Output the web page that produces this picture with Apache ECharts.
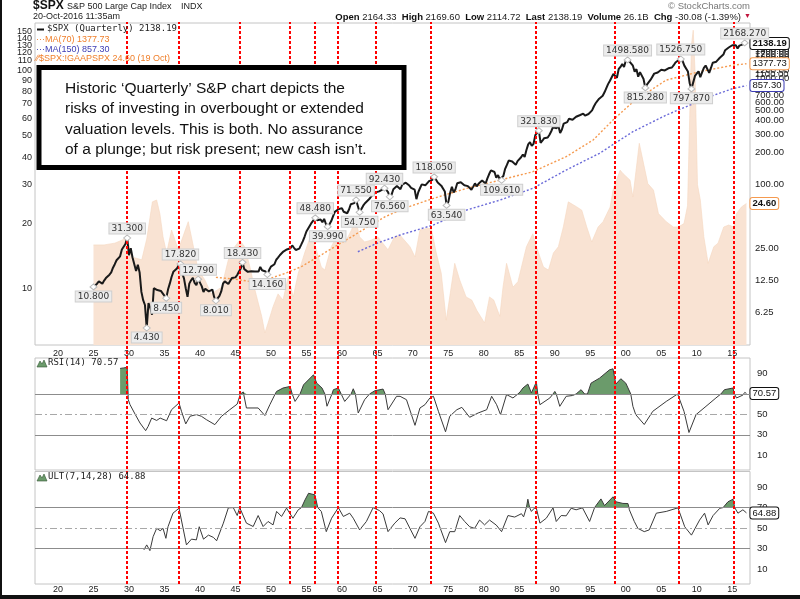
<!DOCTYPE html>
<html>
<head>
<meta charset="utf-8">
<script src="https://cdn.jsdelivr.net/npm/echarts@6/dist/echarts.min.js"></script>
<style>html,body{margin:0;padding:0;background:#fff}#chart{width:800px;height:599px}</style>
</head>
<body>
<div id="chart"></div>
<script>
// quarterly closes; first value = end of 1924, then Q1..Q4 of each year
var spxStart = 1925;
var spxClose = [10.8,
  11.2, 11.6, 12.2, 12.5,   11.6, 12.4, 13.1, 13.4,   14.1, 14.8, 16.4, 17.7,   19.3, 19.0, 21.0, 24.4,   25.3, 27.5, 31.3, 21.5,
  25.1, 20.5, 20.2, 15.3,   17.5, 14.8, 9.7, 8.1,     7.3, 4.43, 7.6, 6.9,      5.9, 10.5, 10.5, 10.1,    10.3, 9.9, 9.4, 9.5,
  8.45, 10.2, 11.6, 13.4,   15.0, 15.2, 16.1, 17.2,   17.82, 14.5, 13.0, 10.5,  8.7, 11.6, 12.5, 13.2,    11.8, 11.2, 12.79, 12.5,
  11.0, 9.7, 10.4, 10.6,    9.8, 9.6, 10.2, 8.7,      8.01, 8.3, 8.9, 9.8,      11.6, 12.2, 11.8, 11.5,   12.0, 13.1, 12.8, 13.3,
  14.0, 15.1, 16.1, 18.43,  15.9, 15.5, 15.0, 15.3,   15.2, 15.1, 15.1, 15.3,   15.1, 16.7, 15.5, 15.2,   15.1, 14.16, 15.6, 16.8,
  17.3, 17.7, 19.5, 20.4,   21.5, 21.0, 23.3, 23.8,   24.4, 25.0, 25.0, 26.6,   25.3, 24.1, 23.4, 24.8,   26.9, 29.2, 32.3, 36.0,
  36.6, 41.0, 43.7, 45.5,   48.48, 46.0, 45.4, 46.7,  44.1, 47.4, 42.4, 39.99,  42.1, 45.2, 50.1, 55.2,   55.4, 58.5, 56.9, 59.9,
  55.3, 56.9, 53.5, 58.1,   65.1, 64.6, 66.7, 71.55,  69.6, 54.75, 56.3, 63.1,  66.6, 69.4, 71.7, 75.0,   78.9, 81.7, 84.2, 84.75,
  86.2, 84.1, 90.0, 92.43,  89.2, 84.7, 76.56, 80.3,  90.2, 90.6, 96.7, 96.5,   90.2, 99.6, 102.7, 103.9, 101.5, 97.7, 93.1, 92.1,
  89.6, 72.7, 84.2, 92.2,   100.3, 99.7, 98.3, 102.1, 107.2, 107.1, 110.6, 118.05, 111.5, 104.3, 108.4, 97.55, 94.0, 86.0, 63.54, 68.6,
  83.4, 95.2, 83.9, 90.2,   102.8, 104.3, 105.2, 107.5, 98.4, 100.5, 96.5, 95.1, 89.2, 95.5, 102.5, 96.1, 101.6, 102.9, 109.3, 107.9,
  102.1, 114.2, 125.5, 135.8, 136.0, 131.2, 116.2, 122.6, 112.0, 109.61, 120.4, 140.6, 153.0, 168.1, 166.1, 164.9, 159.2, 153.2, 166.1, 167.2,
  180.7, 191.9, 182.1, 211.3, 238.9, 250.8, 231.3, 242.2, 291.7, 304.0, 321.83, 247.1, 258.9, 273.5, 271.9, 277.7, 294.9, 318.0, 349.2, 353.4,
  339.9, 358.0, 306.1, 330.2, 375.2, 371.2, 387.9, 417.1, 403.7, 408.1, 417.8, 435.7, 451.7, 450.5, 458.9, 466.5, 445.8, 444.3, 462.7, 459.3,
  500.7, 544.8, 584.4, 615.9, 645.5, 670.6, 687.3, 740.7, 757.1, 885.1, 947.3, 970.4, 1101.8, 1133.8, 1017.0, 1229.2, 1286.4, 1372.7, 1282.7, 1469.3,
  1498.58, 1454.6, 1436.5, 1320.3, 1160.3, 1224.4, 1040.9, 1148.1, 1147.4, 989.8, 815.28, 879.8, 848.2, 974.5, 996.0, 1111.9, 1126.2, 1140.8, 1114.6, 1211.9,
  1180.6, 1191.3, 1228.8, 1248.3, 1294.8, 1270.2, 1335.9, 1418.3, 1420.9, 1503.4, 1526.75, 1468.4, 1322.7, 1280.0, 1166.4, 903.25, 797.87, 919.3, 1057.1, 1115.1,
  1169.4, 1030.7, 1141.2, 1257.6, 1325.8, 1320.6, 1131.4, 1257.6, 1408.5, 1362.2, 1440.7, 1426.2, 1569.2, 1606.3, 1681.6, 1848.4, 1872.3, 1960.2, 1972.3, 2058.9,
  2067.9, 2063.1, 1920.0, 2043.9, 2059.7, 2098.9, 2168.27, 2138.19
];

// labelled highs / lows: [time, value, side]
var spxMarks = [
  [1925.0, 10.8, 'bottom'], [1929.75, 31.3, 'top'], [1932.5, 4.43, 'bottom'], [1935.25, 8.45, 'bottom'],
  [1937.25, 17.82, 'top'], [1939.75, 12.79, 'top'], [1942.25, 8.01, 'bottom'], [1946.0, 18.43, 'top'],
  [1949.5, 14.16, 'bottom'], [1956.25, 48.48, 'top'], [1958.0, 39.99, 'bottom'], [1962.0, 71.55, 'top'],
  [1962.5, 54.75, 'bottom'], [1966.0, 92.43, 'top'], [1966.75, 76.56, 'bottom'], [1973.0, 118.05, 'top'],
  [1974.75, 63.54, 'bottom'], [1982.5, 109.61, 'bottom'], [1987.75, 321.83, 'top'], [2000.25, 1498.58, 'top'],
  [2002.75, 815.28, 'bottom'], [2007.75, 1526.75, 'top'], [2009.25, 797.87, 'bottom'], [2016.75, 2168.27, 'top']
];

var ma70 = [
  [1942.25, 13.3], [1944.9, 12.8], [1947.3, 12.1], [1949.6, 12.8], [1952.0, 14.5], [1954.3, 16.8], [1956.7, 20.9],
  [1959.0, 25.9], [1961.4, 32.2], [1963.7, 40.0], [1966.1, 49.7], [1968.9, 60.0], [1972.9, 74.0], [1977.6, 92.0],
  [1982.3, 110.0], [1986.9, 132.0], [1991.6, 183.0], [1995.4, 263.0], [1998.2, 406.0], [2001.0, 600.0],
  [2005.7, 967.0], [2010.4, 1160.0], [2015.1, 1336.0], [2017.0, 1377.73]
];

var ma150 = [
  [1962.25, 23.2], [1965.0, 28.0], [1968.2, 33.4], [1972.9, 41.5], [1977.6, 57.5], [1982.3, 71.4], [1986.9, 92.0],
  [1991.6, 137.0], [1996.3, 197.0], [2001.0, 315.0], [2005.7, 452.0], [2009.0, 560.0], [2012.0, 680.0],
  [2015.0, 800.0], [2017.0, 857.3]
];

// $SPX:!GAAPSPX (price / GAAP earnings)
var gaapPE = [
  [1925.0, 15.9], [1926.5, 15.9], [1928.0, 16.2], [1929.0, 16.7], [1929.75, 17.3], [1930.4, 14.0], [1931.8, 13.6],
  [1932.5, 16.9], [1933.3, 25.0], [1933.9, 25.5], [1934.35, 22.1], [1934.8, 17.3], [1935.3, 14.6], [1936.0, 18.6],
  [1936.95, 15.1], [1938.35, 20.3], [1938.8, 17.3], [1939.75, 12.2], [1940.7, 11.0], [1941.6, 9.5], [1943.05, 10.2],
  [1944.0, 13.6], [1944.9, 15.6], [1945.6, 16.7], [1946.3, 15.6], [1947.05, 12.6], [1947.75, 9.9], [1948.7, 7.5],
  [1949.15, 6.3], [1949.6, 7.0], [1950.3, 8.3], [1951.0, 9.5], [1951.7, 8.9], [1952.45, 11.4], [1953.15, 9.2],
  [1953.85, 11.8], [1954.75, 14.6], [1955.7, 17.9], [1956.4, 15.1], [1957.1, 12.6], [1957.6, 12.2], [1958.5, 15.6],
  [1959.5, 17.9], [1960.4, 16.2], [1961.35, 18.6], [1961.9, 21.0], [1962.5, 17.3], [1963.2, 16.4], [1964.1, 16.7],
  [1965.05, 17.3], [1966.5, 15.1], [1967.4, 17.3], [1968.2, 17.6], [1969.6, 15.6], [1970.3, 14.0], [1971.0, 18.6],
  [1971.9, 18.9], [1972.6, 18.9], [1973.3, 14.6], [1974.0, 11.8], [1974.7, 7.2], [1975.9, 13.1], [1976.6, 11.0],
  [1977.5, 9.2], [1978.3, 8.9], [1979.0, 8.0], [1980.1, 7.0], [1980.8, 9.2], [1981.4, 8.9], [1982.25, 7.5],
  [1982.7, 10.2], [1983.2, 13.1], [1984.1, 10.2], [1984.8, 10.8], [1986.0, 15.6], [1986.9, 17.9], [1987.4, 15.6],
  [1988.4, 12.6], [1989.1, 12.2], [1989.8, 14.6], [1990.5, 15.6], [1991.2, 19.2], [1991.9, 25.0], [1993.1, 23.7],
  [1993.8, 22.9], [1994.5, 19.2], [1995.2, 16.4], [1996.1, 19.2], [1996.8, 20.3], [1997.8, 23.7], [1998.2, 28.3],
  [1999.2, 34.9], [1999.6, 33.7], [2000.6, 31.4], [2001.0, 26.3], [2001.9, 46.3], [2002.4, 38.8], [2003.1, 30.3],
  [2003.9, 28.3], [2004.6, 22.1], [2005.7, 20.3], [2006.7, 19.2], [2007.4, 19.2], [2008.2, 19.9], [2008.7, 24.0],
  [2009.0, 60.0], [2009.25, 130.0], [2009.5, 152.0], [2009.75, 100.0], [2010.1, 30.0], [2010.5, 25.5], [2011.0, 17.3],
  [2011.6, 13.1], [2012.4, 15.6], [2013.0, 16.2], [2013.8, 19.2], [2014.5, 19.6], [2015.2, 19.2], [2015.6, 22.1],
  [2016.3, 23.7], [2017.0, 24.6]
];

var rsi14 = [
  [1928.75, 95.0], [1929.25, 95.5], [1929.75, 96.0], [1929.9, 64.4], [1930.15, 59.5], [1930.85, 50.4], [1931.55, 41.6],
  [1932.35, 34.1], [1932.7, 38.3], [1933.2, 46.4], [1933.4, 47.0], [1933.9, 44.1], [1934.4, 46.4], [1935.3, 43.8],
  [1936.0, 54.6], [1937.05, 61.2], [1937.4, 53.0], [1938.0, 40.7], [1938.6, 48.2], [1939.5, 49.8], [1940.2, 48.2],
  [1940.9, 44.9], [1942.1, 40.0], [1943.05, 48.2], [1944.2, 54.6], [1945.25, 60.1], [1945.7, 70.0], [1946.1, 72.0],
  [1946.55, 56.3], [1948.2, 56.3], [1948.45, 55.6], [1949.15, 48.9], [1949.85, 59.5], [1950.6, 70.0], [1950.8, 72.5],
  [1951.7, 75.8], [1952.7, 77.4], [1953.0, 70.0], [1953.4, 62.7], [1954.1, 70.0], [1954.6, 79.0], [1956.0, 88.8],
  [1956.45, 80.6], [1957.2, 75.8], [1957.6, 70.0], [1957.9, 58.0], [1958.6, 70.0], [1958.8, 74.2], [1959.5, 75.8],
  [1959.9, 70.0], [1960.4, 62.7], [1961.3, 70.0], [1961.6, 75.1], [1961.9, 70.0], [1962.3, 51.4], [1963.2, 64.4],
  [1963.9, 70.0], [1964.65, 73.2], [1965.8, 74.8], [1966.1, 70.0], [1966.5, 54.6], [1967.7, 67.7], [1968.2, 67.7],
  [1969.1, 64.4], [1970.3, 39.3], [1971.0, 56.3], [1971.7, 59.5], [1972.4, 66.1], [1972.9, 67.7], [1973.6, 53.0],
  [1974.6, 33.0], [1975.2, 48.2], [1976.2, 54.6], [1976.9, 56.9], [1978.0, 47.2], [1979.2, 51.4], [1980.4, 54.6],
  [1981.1, 67.7], [1981.8, 59.5], [1982.35, 49.8], [1983.2, 69.4], [1984.1, 66.1], [1984.8, 70.0], [1985.1, 71.9],
  [1985.5, 75.8], [1986.2, 79.7], [1986.7, 71.0], [1987.4, 81.7], [1987.6, 70.0], [1987.9, 59.5], [1989.3, 66.1],
  [1989.75, 70.0], [1990.0, 72.5], [1990.2, 70.0], [1990.7, 57.9], [1991.6, 67.7], [1992.5, 68.5], [1993.0, 70.0],
  [1993.7, 74.2], [1994.2, 70.0], [1994.4, 68.4], [1994.6, 70.0], [1995.1, 80.6], [1996.3, 85.5], [1997.7, 93.6],
  [1998.2, 94.6], [1998.6, 79.7], [1999.3, 84.9], [2000.0, 80.6], [2000.7, 70.0], [2001.0, 57.9], [2001.4, 49.8],
  [2002.6, 40.1], [2003.8, 53.0], [2005.7, 62.7], [2007.3, 70.0], [2008.2, 53.0], [2008.9, 32.3], [2009.9, 49.8],
  [2011.3, 57.9], [2012.7, 66.1], [2013.4, 70.0], [2013.9, 74.2], [2015.1, 75.8], [2015.3, 70.0], [2015.6, 66.1],
  [2016.5, 68.9], [2016.75, 71.5], [2017.0, 70.57]
];

var ult = [
  [1932.1, 28.8], [1932.5, 33.7], [1932.95, 28.1], [1933.4, 41.7], [1933.9, 49.8], [1934.4, 47.5], [1934.8, 49.8],
  [1935.2, 40.1], [1935.5, 51.4], [1936.2, 64.6], [1937.05, 69.4], [1938.1, 33.7], [1938.8, 39.3], [1939.5, 38.6],
  [1939.9, 51.4], [1940.5, 39.3], [1941.2, 43.2], [1941.9, 41.0], [1942.35, 37.7], [1943.3, 54.9], [1944.0, 69.8],
  [1944.7, 70.0], [1945.25, 62.3], [1945.6, 70.0], [1946.55, 54.9], [1947.5, 51.6], [1948.2, 62.3], [1948.9, 51.6],
  [1949.6, 56.5], [1950.3, 53.2], [1950.8, 66.3], [1951.5, 61.4], [1952.2, 69.5], [1953.1, 59.7], [1953.85, 67.9],
  [1954.3, 70.0], [1954.8, 77.5], [1955.3, 84.0], [1956.2, 82.4], [1956.6, 70.0], [1957.1, 66.3], [1957.8, 46.6],
  [1958.55, 59.7], [1959.5, 70.0], [1960.2, 61.4], [1961.1, 64.6], [1961.6, 59.7], [1962.5, 48.3], [1963.45, 56.5],
  [1964.4, 70.0], [1965.3, 67.1], [1965.8, 63.9], [1966.5, 46.6], [1967.45, 54.9], [1968.2, 60.0], [1968.9, 59.1],
  [1970.3, 40.1], [1971.0, 51.4], [1971.7, 56.5], [1972.2, 66.3], [1972.9, 64.6], [1973.6, 54.9], [1974.6, 35.9],
  [1975.2, 46.6], [1975.9, 46.6], [1976.6, 62.3], [1977.3, 56.5], [1978.0, 51.4], [1978.7, 49.8], [1979.4, 57.9],
  [1980.1, 53.2], [1980.8, 57.9], [1981.75, 53.0], [1982.5, 46.6], [1983.4, 62.3], [1984.35, 60.8], [1985.3, 64.1],
  [1985.6, 61.0], [1986.0, 70.0], [1986.2, 78.2], [1986.45, 70.0], [1986.7, 66.3], [1987.1, 69.4], [1987.4, 69.4],
  [1987.9, 54.9], [1988.8, 59.7], [1989.75, 69.8], [1990.2, 56.5], [1990.9, 62.3], [1991.6, 62.0], [1992.3, 69.4],
  [1993.0, 67.9], [1993.9, 69.8], [1994.9, 56.5], [1995.6, 70.0], [1995.8, 72.0], [1996.5, 78.5], [1997.0, 72.0],
  [1998.2, 80.6], [1998.6, 75.7], [1999.6, 74.1], [2000.3, 74.0], [2000.45, 70.0], [2000.5, 67.9], [2001.2, 56.5],
  [2001.7, 49.8], [2002.6, 46.6], [2003.3, 48.3], [2004.3, 64.6], [2005.7, 66.3], [2007.35, 69.8], [2008.3, 51.4],
  [2009.25, 43.2], [2010.4, 57.9], [2011.1, 64.6], [2011.6, 53.2], [2012.3, 62.3], [2013.25, 69.4], [2013.7, 70.0],
  [2014.4, 75.7], [2015.1, 78.2], [2015.35, 70.0], [2015.8, 64.6], [2016.5, 67.9], [2017.0, 64.88]
];

var redLineYears = [1929.7, 1937.0, 1945.6, 1952.7, 1956.2, 1959.4, 1964.8, 1972.5, 1987.3, 1998.5, 2007.5, 2015.2];
var yearTicks = [1920, 1925, 1930, 1935, 1940, 1945, 1950, 1955, 1960, 1965, 1970, 1975, 1980, 1985, 1990, 1995, 2000, 2005, 2010, 2015];
var peTicks = [10, 20, 30, 40, 50, 60, 70, 80, 90, 100, 110, 120, 130, 140, 150, 160];
var priceTicks = [6.25, 12.5, 25, 100, 200, 300, 400, 500, 600, 700, 800, 900, 1000, 1100, 1200, 1300, 1400, 1500, 1600, 1700, 1800, 1900, 2000];
var oscTicks = [10, 30, 50, 70, 90];

var boxLines = [
  'Historic \u2018Quarterly\u2019 S&P chart depicts the',
  'risks of investing in overbought or extended',
  'valuation levels. This is both. No assurance',
  'of a plunge; but risk present; new cash isn\u2019t.'
];

var XMIN = 1916.76, XMAX = 2017.5;
var PE_MIN = 5.55, PE_MAX = 164, PX_MIN = 3.06, PX_MAX = 3340;
var OSC_MIN = -4.4, OSC_MAX = 105.2;

var SANS = 'Liberation Sans, Arial, sans-serif';
var MONO = 'DejaVu Sans Mono, monospace';
var DJV = 'DejaVu Sans, sans-serif';
var ORANGE = '#f59a4f', BLUE = '#6a6ad8', GREEN = '#6b9b6b';

var spxData = spxClose.map(function (v, i) { return [spxStart + i * 0.25, v]; });
var rsiFill = rsi14.map(function (d) { return [d[0], Math.max(d[1], 70)]; });
var ultFill = ult.map(function (d) { return [d[0], Math.max(d[1], 70)]; });
function lastVal(arr) { return arr[arr.length - 1][1]; }

function xAxisFor(grid, showLabels, margin) {
  return {
    gridIndex: grid, type: 'value', min: XMIN, max: XMAX,
    axisLine: { show: false }, axisTick: { show: false }, splitLine: { show: false },
    axisLabel: {
      show: showLabels, customValues: yearTicks, margin: margin, fontSize: 9, color: '#222', fontFamily: SANS,
      formatter: function (v) { return String(Math.round(v)).slice(2); }
    }
  };
}

function endBox(text, border, bold) {
  return {
    show: true, distance: 4, formatter: function () { return text; },
    fontSize: 9.5, fontWeight: bold ? 'bold' : 'normal', fontFamily: SANS, color: '#111',
    backgroundColor: '#fff', borderColor: border, borderWidth: 1, borderRadius: 2, padding: [1, 2, 0, 2]
  };
}

var oscLines = {
  silent: true, symbol: ['none', 'none'], label: { show: false }, animation: false,
  data: [
    { yAxis: 70, lineStyle: { color: '#8c8c8c', width: 1, type: 'solid' } },
    { yAxis: 50, lineStyle: { color: '#a8a8a8', width: 1, type: [7, 3, 2, 3] } },
    { yAxis: 30, lineStyle: { color: '#8c8c8c', width: 1, type: 'solid' } }
  ]
};

function oscAxis(grid) {
  return {
    gridIndex: grid, type: 'value', position: 'right', min: OSC_MIN, max: OSC_MAX,
    axisLine: { show: false }, axisTick: { show: false }, splitLine: { show: false },
    axisLabel: { customValues: oscTicks, margin: 7, fontSize: 9.5, color: '#222', fontFamily: SANS }
  };
}

var graphics = [
  { type: 'rect', shape: { x: 0, y: 0, width: 2, height: 599 }, style: { fill: '#111' }, z: 100 },
  { type: 'rect', shape: { x: 0, y: 595, width: 800, height: 4 }, style: { fill: '#111' }, z: 100 },
  { type: 'text', x: 33, y: 0, z: 100, style: { text: '$SPX', font: 'bold 12px ' + SANS, fill: '#111' } },
  { type: 'text', x: 67, y: 2, z: 100, style: { text: 'S&P 500 Large Cap Index', font: '9px ' + SANS, fill: '#222' } },
  { type: 'text', x: 181, y: 2, z: 100, style: { text: 'INDX', font: '9px ' + SANS, fill: '#222' } },
  { type: 'text', x: 33, y: 12, z: 100, style: { text: '20-Oct-2016 11:35am', font: '9px ' + SANS, fill: '#222' } },
  { type: 'text', x: 668, y: 1, z: 100, style: { text: '\u00a9 StockCharts.com', font: '9.5px ' + SANS, fill: '#777' } },
  { type: 'text', x: 741, y: 12, z: 100, style: {
      text: '{b|Open} 2164.33  {b|High} 2169.60  {b|Low} 2114.72  {b|Last} 2138.19  {b|Volume} 26.1B  {b|Chg} -30.08 (-1.39%)',
      align: 'right', font: '9.5px ' + SANS, fill: '#222',
      rich: { b: { font: 'bold 9.5px ' + SANS, fill: '#111' } }
  } },
  { type: 'text', x: 744, y: 13, z: 100, style: { text: '\u25bc', font: '7px ' + SANS, fill: '#c0143c' } },
  // legend of the price panel
  { type: 'rect', shape: { x: 37, y: 28.5, width: 7, height: 2 }, style: { fill: '#111' }, z: 100 },
  { type: 'text', x: 47, y: 24.5, z: 100, style: { text: '$SPX (Quarterly) 2138.19', font: '9px ' + MONO, fill: '#222' } },
  { type: 'text', x: 36, y: 35.5, z: 100, style: { text: '\u00b7\u00b7\u00b7MA(70) 1377.73', font: '9px ' + SANS, fill: '#f07f2a' } },
  { type: 'text', x: 36, y: 45.5, z: 100, style: { text: '\u00b7\u00b7\u00b7MA(150) 857.30', font: '9px ' + SANS, fill: '#3c3cb4' } },
  { type: 'text', x: 36, y: 54.5, z: 100, style: { text: '\u2215\u2215$SPX:!GAAPSPX 24.60 (19 Oct)', font: '9px ' + SANS, fill: '#f07f2a' } },
  // indicator captions
  { type: 'polygon', shape: { points: [[37, 367], [40, 361], [42, 364], [44, 360], [47, 367]] }, style: { fill: GREEN, stroke: '#335533', lineWidth: 0.6 }, z: 100 },
  { type: 'text', x: 48, y: 358.5, z: 100, style: { text: 'RSI(14) 70.57', font: '9px ' + MONO, fill: '#222' } },
  { type: 'polygon', shape: { points: [[37, 481], [40, 475], [42, 478], [44, 474], [47, 481]] }, style: { fill: GREEN, stroke: '#335533', lineWidth: 0.6 }, z: 100 },
  { type: 'text', x: 48, y: 472.5, z: 100, style: { text: 'ULT(7,14,28) 64.88', font: '9px ' + MONO, fill: '#222' } },
  // comment box
  { type: 'rect', z: 110, shape: { x: 39, y: 67.5, width: 365, height: 100 }, style: { fill: '#fff', stroke: '#000', lineWidth: 5 } },
  { type: 'text', x: 65, y: 78, z: 111, style: { text: boxLines.join('\n'), font: '15.5px ' + SANS, lineHeight: 20.6, fill: '#111' } }
];

var chart = echarts.init(document.getElementById('chart'));
var option = {
  animation: false,
  backgroundColor: '#fff',
  grid: [
    { left: 35, top: 23, width: 715, height: 322, show: true, borderColor: '#c4c4c4', borderWidth: 1 },
    { left: 35, top: 358, width: 715, height: 112, show: true, borderColor: '#c4c4c4', borderWidth: 1 },
    { left: 35, top: 471.5, width: 715, height: 112.5, show: true, borderColor: '#c4c4c4', borderWidth: 1 },
    { left: 35, top: 22, width: 715, height: 562, show: false }
  ],
  xAxis: [
    xAxisFor(0, true, 4),
    xAxisFor(1, false, 2),
    xAxisFor(2, true, 1),
    { gridIndex: 3, type: 'value', min: XMIN, max: XMAX, show: false }
  ],
  yAxis: [
    { gridIndex: 0, type: 'log', position: 'left', min: PE_MIN, max: PE_MAX, axisLabel: { show: false },
      axisLine: { show: false }, axisTick: { show: false }, splitLine: { show: false } },
    { gridIndex: 0, type: 'log', position: 'right', min: PX_MIN, max: PX_MAX, axisLabel: { show: false },
      axisLine: { show: false }, axisTick: { show: false }, splitLine: { show: false } },
    // label rails for the two log scales
    { gridIndex: 0, type: 'value', position: 'left', min: Math.log10(PE_MIN), max: Math.log10(PE_MAX),
      axisLine: { show: false }, axisTick: { show: false }, splitLine: { show: false },
      axisLabel: { customValues: peTicks.map(Math.log10), margin: 3, fontSize: 9, color: '#222', fontFamily: SANS,
        formatter: function (v) { return String(Math.round(Math.pow(10, v))); } } },
    { gridIndex: 0, type: 'value', position: 'right', min: Math.log10(PX_MIN), max: Math.log10(PX_MAX),
      axisLine: { show: false }, axisTick: { show: false }, splitLine: { show: false },
      axisLabel: { customValues: priceTicks.map(Math.log10), margin: 5, fontSize: 9.5, color: '#222', fontFamily: SANS,
        formatter: function (v) { return Math.pow(10, v).toFixed(2); } } },
    oscAxis(1),
    oscAxis(2),
    { gridIndex: 3, type: 'value', min: 0, max: 1, show: false }
  ],
  series: [
    {
      name: 'GAAP PE', type: 'line', xAxisIndex: 0, yAxisIndex: 0, data: gaapPE, showSymbol: false, z: 1,
      lineStyle: { color: '#f5d6bf', width: 0.6 }, areaStyle: { color: '#f9e3d3', opacity: 1, origin: 'start' },
      endLabel: endBox(lastVal(gaapPE).toFixed(2), ORANGE, true)
    },
    {
      name: 'MA(70)', type: 'line', xAxisIndex: 0, yAxisIndex: 1, data: ma70, showSymbol: false, z: 3,
      lineStyle: { color: ORANGE, width: 1.4, type: [2, 2] },
      endLabel: endBox(lastVal(ma70).toFixed(2), ORANGE, false)
    },
    {
      name: 'MA(150)', type: 'line', xAxisIndex: 0, yAxisIndex: 1, data: ma150, showSymbol: false, z: 3,
      lineStyle: { color: BLUE, width: 1.4, type: [2, 2] },
      endLabel: endBox(lastVal(ma150).toFixed(2), '#3c3cb4', false)
    },
    {
      name: '$SPX', type: 'line', xAxisIndex: 0, yAxisIndex: 1, data: spxData, showSymbol: false, z: 4,
      lineStyle: { color: '#1a1a1a', width: 2 },
      endLabel: endBox(lastVal(spxData).toFixed(2), '#111', true),
      markPoint: {
        symbol: 'diamond', symbolSize: [7, 6], silent: true, animation: false,
        itemStyle: { color: '#fff', borderColor: '#bbb', borderWidth: 1 },
        data: spxMarks.map(function (m) {
          return {
            coord: [m[0], m[1]], value: m[1],
            label: {
              show: true, position: m[2], distance: 1, formatter: m[1].toFixed(3),
              fontSize: 9, fontFamily: DJV, color: '#333', backgroundColor: '#ececec',
              borderColor: '#cfcfcf', borderWidth: 1, padding: [1, 2, 0, 2]
            }
          };
        })
      }
    },
    {
      name: 'RSI fill', type: 'line', xAxisIndex: 1, yAxisIndex: 4, data: rsiFill, showSymbol: false, z: 2,
      lineStyle: { width: 0, opacity: 0 }, areaStyle: { color: GREEN, opacity: 1, origin: 70 }
    },
    {
      name: 'RSI', type: 'line', xAxisIndex: 1, yAxisIndex: 4, data: rsi14, showSymbol: false, z: 3,
      lineStyle: { color: '#3a3a3a', width: 1 }, markLine: oscLines,
      endLabel: endBox(lastVal(rsi14).toFixed(2), '#111', false)
    },
    {
      name: 'ULT fill', type: 'line', xAxisIndex: 2, yAxisIndex: 5, data: ultFill, showSymbol: false, z: 2,
      lineStyle: { width: 0, opacity: 0 }, areaStyle: { color: GREEN, opacity: 1, origin: 70 }
    },
    {
      name: 'ULT', type: 'line', xAxisIndex: 2, yAxisIndex: 5, data: ult, showSymbol: false, z: 3,
      lineStyle: { color: '#3a3a3a', width: 1 }, markLine: oscLines,
      endLabel: endBox(lastVal(ult).toFixed(2), '#111', false)
    },
    {
      name: 'cycle tops', type: 'line', xAxisIndex: 3, yAxisIndex: 6, data: [[XMAX, 0]], showSymbol: false, z: 6,
      lineStyle: { opacity: 0 },
      markLine: {
        silent: true, symbol: ['none', 'none'], label: { show: false }, animation: false,
        lineStyle: { color: '#ff0000', width: 2, type: [3, 2] },
        data: redLineYears.map(function (y) { return { xAxis: y }; })
      }
    }
  ],
  graphic: graphics
};
chart.setOption(option);
</script>
</body>
</html>
